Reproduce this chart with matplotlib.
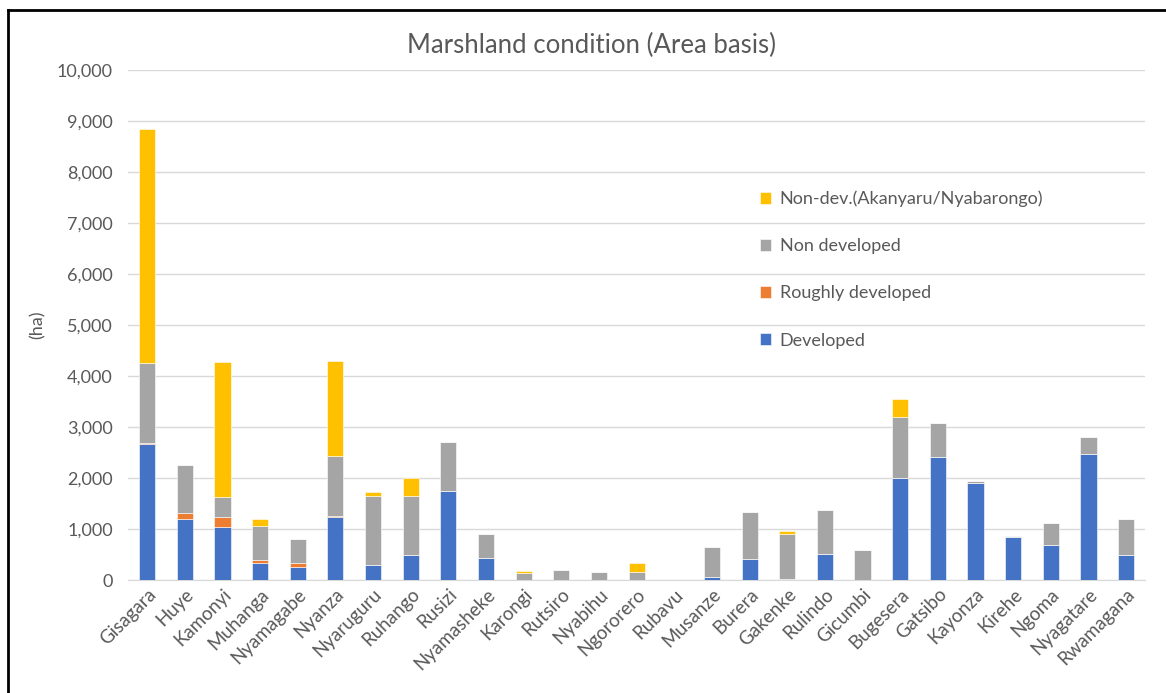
import numpy as np
import matplotlib
matplotlib.use('Agg')
import matplotlib.pyplot as plt
from matplotlib.ticker import FuncFormatter
from matplotlib.lines import Line2D

plt.rcParams['font.family'] = ['Lato', 'DejaVu Sans']

districts = ['Gisagara', 'Huye', 'Kamonyi', 'Muhanga', 'Nyamagabe', 'Nyanza',
             'Nyaruguru', 'Ruhango', 'Rusizi', 'Nyamasheke', 'Karongi', 'Rutsiro',
             'Nyabihu', 'Ngororero', 'Rubavu', 'Musanze', 'Burera', 'Gakenke',
             'Rulindo', 'Gicumbi', 'Bugesera', 'Gatsibo', 'Kayonza', 'Kirehe',
             'Ngoma', 'Nyagatare', 'Rwamagana']

developed = [2660, 1200, 1045, 330, 260, 1245, 295, 500, 1740, 430, 0, 0,
             0, 0, 0, 50, 410, 20, 520, 0, 2000, 2405, 1895, 835,
             690, 2470, 500]
roughly = [30, 117, 190, 60, 65, 15, 0, 0, 0, 0, 0, 0,
           0, 0, 0, 0, 0, 0, 0, 0, 0, 0, 0, 0,
           0, 0, 0]
non_dev = [1560, 940, 400, 675, 485, 1165, 1360, 1150, 965, 470, 145, 200,
           155, 165, 0, 595, 915, 880, 850, 580, 1195, 680, 40, 25,
           430, 335, 705]
non_dev_river = [4595, 0, 2640, 140, 0, 1875, 65, 350, 0, 0, 25, 0,
                 0, 170, 0, 0, 0, 70, 0, 0, 355, 0, 0, 0,
                 0, 0, 0]

text_color = '#595959'

fig = plt.figure(figsize=(11.66, 6.93), dpi=100)
ax = fig.add_axes([0.110, 0.163, 0.872, 0.736])

x = np.arange(len(districts))
w = 0.43
d = np.array(developed)
r = np.array(roughly)
n = np.array(non_dev)
y = np.array(non_dev_river)

kw = dict(width=w, edgecolor='white', linewidth=0.4, zorder=3)
b1 = ax.bar(x, d, color='#4472C4', label='Developed', **kw)
b2 = ax.bar(x, r, bottom=d, color='#ED7D31', label='Roughly developed', **kw)
b3 = ax.bar(x, n, bottom=d + r, color='#A5A5A5', label='Non developed', **kw)
b4 = ax.bar(x, y, bottom=d + r + n, color='#FFC000',
            label='Non-dev.(Akanyaru/Nyabarongo)', **kw)

ax.set_xlim(-0.5, len(districts) - 0.5)
ax.set_ylim(0, 10000)
ax.set_yticks(range(0, 10001, 1000))
ax.yaxis.set_major_formatter(FuncFormatter(lambda v, p: f'{int(v):,}'))
ax.grid(axis='y', color='#D9D9D9', linewidth=1, zorder=0)
for s in ['top', 'right', 'left']:
    ax.spines[s].set_visible(False)
ax.spines['bottom'].set_color('#D9D9D9')
ax.tick_params(axis='both', length=0, colors=text_color, labelsize=13)
ax.tick_params(axis='y', pad=11)
ax.tick_params(axis='x', labelsize=13.5, pad=4)
ax.set_xticks(x)
ax.set_xticklabels(districts, rotation=45, ha='right', rotation_mode='anchor')

ax.set_ylabel('(ha)', color=text_color, fontsize=13, labelpad=8)
# title is centred on the whole chart, not on the plot area
fig.text(0.507, 1 - 45 / 693, 'Marshland condition (Area basis)', color=text_color,
         fontsize=18.5, ha='center', va='center')

leg = ax.legend(handles=[b4, b3, b2, b1], loc='upper left',
                bbox_to_anchor=(0.605, 0.795), frameon=False, fontsize=13,
                labelspacing=1.72, handlelength=0.65, handleheight=0.65,
                handletextpad=0.45)
for t in leg.get_texts():
    t.set_color(text_color)

# chart border (left and top edges visible, rest cropped)
fig.lines.append(Line2D([8 / 1166, 8 / 1166], [0, 1 - 10 / 693],
                        transform=fig.transFigure, color='black', linewidth=2))
fig.lines.append(Line2D([8 / 1166, 1], [1 - 10 / 693, 1 - 10 / 693],
                        transform=fig.transFigure, color='black', linewidth=2))

fig.savefig('out.png', dpi=100)
